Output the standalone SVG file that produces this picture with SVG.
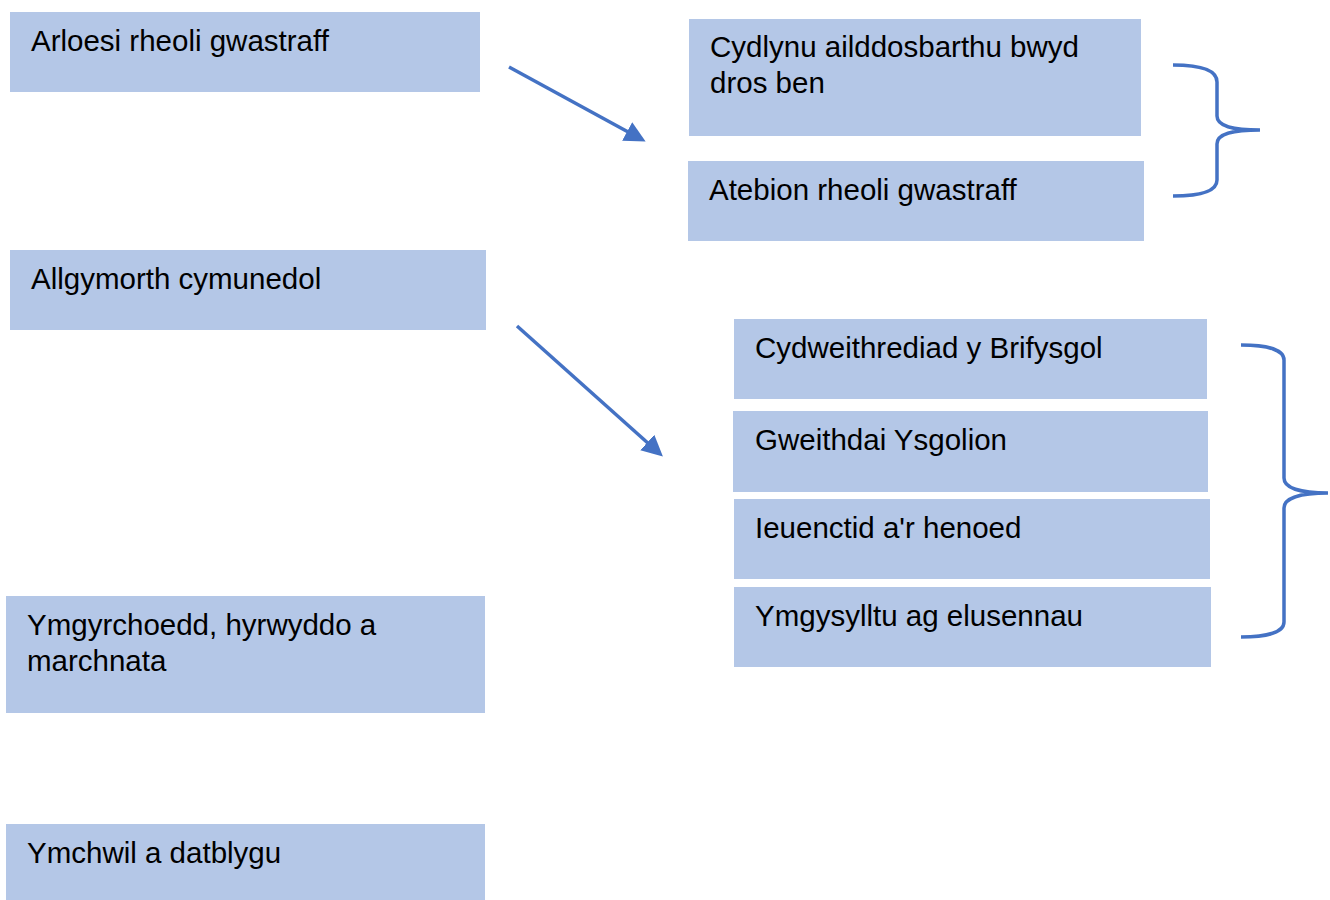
<svg xmlns="http://www.w3.org/2000/svg" width="1330" height="900" viewBox="0 0 1330 900">
<style>
.box{fill:#B4C7E7;}
.t{font-family:"Liberation Sans",Arial,sans-serif;font-size:29.5px;fill:#000;}
.c{fill:none;stroke:#4472C4;stroke-width:3.5;}
</style>
<defs>
<marker id="ah" markerWidth="6" markerHeight="6" refX="4.5" refY="3" orient="auto" markerUnits="strokeWidth">
<path d="M0,0 L6,3 L0,6 Z" fill="#4472C4"/>
</marker>
</defs>
<rect width="1330" height="900" fill="#fff"/>
<g id="n1"><rect class="box" x="10" y="12" width="470" height="80"/><text class="t" x="31" y="51">Arloesi rheoli gwastraff</text></g>
<g id="n2"><rect class="box" x="10" y="250" width="476" height="80"/><text class="t" x="31" y="289">Allgymorth cymunedol</text></g>
<g id="n3"><rect class="box" x="6" y="596" width="479" height="117"/><text class="t" x="27" y="635">Ymgyrchoedd, hyrwyddo a</text><text class="t" x="27" y="671">marchnata</text></g>
<g id="n4"><rect class="box" x="6" y="824" width="479" height="76"/><text class="t" x="27" y="863">Ymchwil a datblygu</text></g>
<g id="n5"><rect class="box" x="689" y="19" width="452" height="117"/><text class="t" x="710" y="57">Cydlynu ailddosbarthu bwyd</text><text class="t" x="710" y="93">dros ben</text></g>
<g id="n6"><rect class="box" x="688" y="161" width="456" height="80"/><text class="t" x="709" y="200">Atebion rheoli gwastraff</text></g>
<g id="n7"><rect class="box" x="734" y="319" width="473" height="80"/><text class="t" x="755" y="358">Cydweithrediad y Brifysgol</text></g>
<g id="n8"><rect class="box" x="733" y="411" width="475" height="81"/><text class="t" x="755" y="450">Gweithdai Ysgolion</text></g>
<g id="n9"><rect class="box" x="734" y="499" width="476" height="80"/><text class="t" x="755" y="538">Ieuenctid a'r henoed</text></g>
<g id="n10"><rect class="box" x="734" y="587" width="477" height="80"/><text class="t" x="755" y="626">Ymgysylltu ag elusennau</text></g>
<g id="connectors">
<line class="c" x1="509" y1="67" x2="641" y2="139" marker-end="url(#ah)"/>
<line class="c" x1="517" y1="326" x2="659" y2="453" marker-end="url(#ah)"/>
<path class="c" d="M1173,65 C1200,65 1217,70 1217,82 L1217,116 C1217,126 1232,130 1260,130 C1232,130 1217,134 1217,144 L1217,180 C1217,191 1200,196 1173,196"/>
<path class="c" d="M1241,345 C1268,345 1284,350 1284,360 L1284,478 C1284,488 1300,493 1328,493 C1300,493 1284,498 1284,508 L1284,622 C1284,632 1268,637 1241,637"/>
</g>
</svg>
